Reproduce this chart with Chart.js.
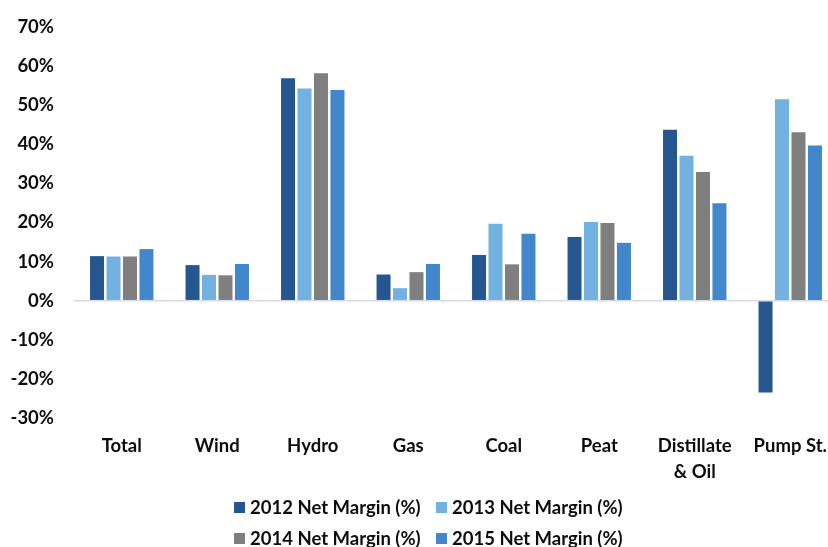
<!DOCTYPE html>
<html>
<head>
<meta charset="utf-8">
<script src="https://cdn.jsdelivr.net/npm/chart.js@4.4.1/dist/chart.umd.min.js"></script>
<style>
  html, body { margin: 0; padding: 0; background: #fff; overflow: hidden; }
  #wrap { position: relative; width: 828px; height: 547px; overflow: hidden; }
  #chart { position: absolute; left: 0; top: 0; }
  #legend {
    position: absolute; left: 234px; top: 494px;
    display: grid; grid-template-columns: 202px auto; grid-auto-rows: 31px;
    font: bold 18.5px Lato, "Open Sans", sans-serif; color: #0d0d0d;
  }
  .item { display: flex; align-items: center; white-space: nowrap; height: 26px; }
  .swatch { width: 11px; height: 11px; margin-right: 5px; flex: none; }
</style>
</head>
<body>
<div id="wrap">
  <canvas id="chart" width="842" height="547"></canvas>
  <div id="legend"></div>
</div>
<script>
// Generation segments on the x axis
const categories = ['Total', 'Wind', 'Hydro', 'Gas', 'Coal', 'Peat', ['Distillate', '& Oil'], 'Pump St.'];

// Net margin per segment, in percent
const margin2012 = [11.4, 9.1, 56.9, 6.7, 11.7, 16.3, 43.7, -23.5];
const margin2013 = [11.3, 6.6, 54.3, 3.2, 19.7, 20.1, 37.1, 51.5];
const margin2014 = [11.3, 6.5, 58.2, 7.3, 9.3, 19.9, 32.9, 43.1];
const margin2015 = [13.2, 9.4, 53.9, 9.4, 17.1, 14.8, 24.9, 39.7];

const seriesLabels = ['2012 Net Margin (%)', '2013 Net Margin (%)', '2014 Net Margin (%)', '2015 Net Margin (%)'];
const seriesColors = ['#26568F', '#73B1E1', '#7F7F7F', '#4286CC'];

// Value axis range and step
const yMin = -30, yMax = 70, yStep = 10;

const font = { family: 'Lato, "Open Sans", sans-serif', size: 18.5, weight: 'bold' };
const textColor = '#0d0d0d';

const datasets = [margin2012, margin2013, margin2014, margin2015].map((values, i) => ({
  label: seriesLabels[i],
  data: values,
  backgroundColor: seriesColors[i],
  borderWidth: 0,
  barPercentage: 0.85,
  categoryPercentage: 0.69
}));

const chart = new Chart(document.getElementById('chart'), {
  type: 'bar',
  data: { labels: categories, datasets },
  options: {
    responsive: false,
    animation: false,
    layout: { padding: { top: 27, right: 4, bottom: 39, left: 0 } },
    plugins: { legend: { display: false }, tooltip: { enabled: false } },
    scales: {
      x: {
        grid: { display: false },
        border: { display: false },
        ticks: {
          color: textColor,
          font: { ...font, lineHeight: 1.4 },
          padding: 7,
          maxRotation: 0,
          autoSkip: false
        },
        afterFit: s => { s.height = 90; }
      },
      y: {
        min: yMin,
        max: yMax,
        grid: {
          drawTicks: false,
          lineWidth: 1.5,
          color: ctx => (ctx.tick && ctx.tick.value === 0 ? '#D5DCE6' : 'rgba(0,0,0,0)')
        },
        border: { display: false },
        ticks: {
          stepSize: yStep,
          color: textColor,
          font,
          padding: 20,
          callback: v => v + '%'
        },
        afterFit: s => {
          // fixed axis width; keep the label gap from adding vertical space
          s.width = 74;
          s.paddingTop = 0;
          s.paddingBottom = 0;
        }
      }
    }
  }
});

// Two-row legend built from the chart's datasets
const legend = document.getElementById('legend');
chart.data.datasets.forEach(ds => {
  const item = document.createElement('div');
  item.className = 'item';
  const sw = document.createElement('span');
  sw.className = 'swatch';
  sw.style.background = ds.backgroundColor;
  const txt = document.createElement('span');
  txt.textContent = ds.label;
  item.appendChild(sw);
  item.appendChild(txt);
  legend.appendChild(item);
});
</script>
</body>
</html>
